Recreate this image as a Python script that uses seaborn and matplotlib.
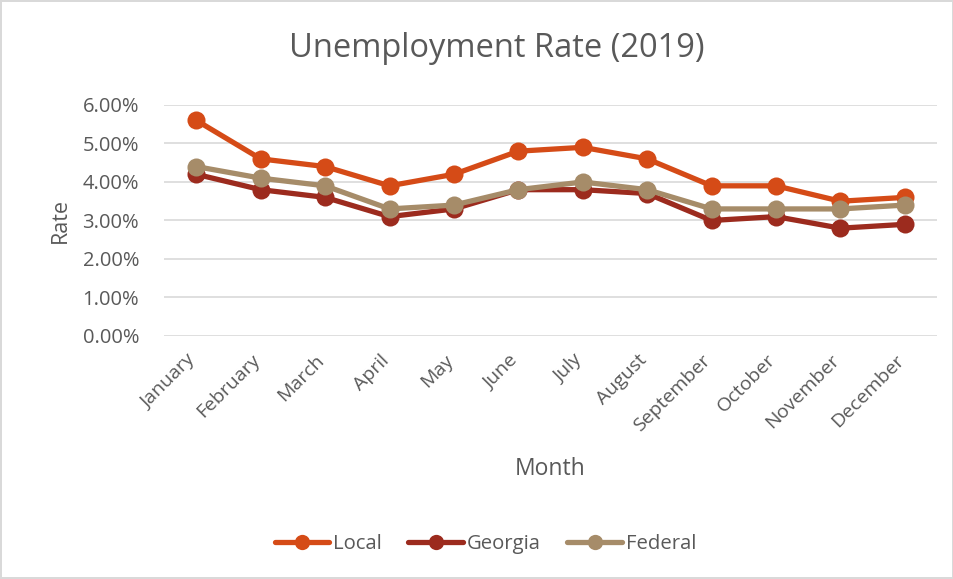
import pandas as pd
import matplotlib.pyplot as plt
import seaborn as sns
from matplotlib.ticker import PercentFormatter

months = ['January', 'February', 'March', 'April', 'May', 'June', 'July',
          'August', 'September', 'October', 'November', 'December']
local = [5.6, 4.6, 4.4, 3.9, 4.2, 4.8, 4.9, 4.6, 3.9, 3.9, 3.5, 3.6]
georgia = [4.2, 3.8, 3.6, 3.1, 3.3, 3.8, 3.8, 3.7, 3.0, 3.1, 2.8, 2.9]
federal = [4.4, 4.1, 3.9, 3.3, 3.4, 3.8, 4.0, 3.8, 3.3, 3.3, 3.3, 3.4]
series = ['Local', 'Georgia', 'Federal']
colors = {'Local': '#D54B17', 'Georgia': '#9C2B1E', 'Federal': '#A68C69'}

df = pd.DataFrame({
    'Month': months * 3,
    'Rate': local + georgia + federal,
    'Series': [s for s in series for _ in months],
})

sns.set_theme(style='white')
plt.rcParams['font.family'] = ['Open Sans', 'DejaVu Sans']
text_col = '#595959'

fig = plt.figure(figsize=(9.54, 5.79), dpi=100)
fig.patch.set_edgecolor('#D9D9D9')
fig.patch.set_linewidth(1.5)
ax = fig.add_axes([0.172, 0.4197, 0.8102, 0.399])

sns.lineplot(data=df, x='Month', y='Rate', hue='Series', palette=colors,
             hue_order=series, marker='o', markersize=13, markeredgewidth=0,
             linewidth=3.8, sort=False, legend=False, ax=ax)

ax.set_xlim(-0.5, 11.5)
ax.set_ylim(0, 6)
ax.set_yticks([0, 1, 2, 3, 4, 5, 6])
ax.yaxis.set_major_formatter(PercentFormatter(decimals=2))
ax.grid(axis='y', color='#D9D9D9', linewidth=1.2)
ax.set_axisbelow(True)
sns.despine(ax=ax, left=True, bottom=True)
ax.tick_params(axis='both', length=0, colors=text_col)
ax.tick_params(axis='y', pad=18, labelsize=14.5)
ax.tick_params(axis='x', pad=18, labelsize=14)
plt.setp(ax.get_xticklabels(), rotation=45, ha='right', va='baseline',
         rotation_mode='anchor')

ax.set_xlabel('Month', fontsize=16.5, color=text_col, labelpad=16)
ax.set_ylabel('Rate', fontsize=15.5, color=text_col, labelpad=8)
fig.text(0.521, 0.917, 'Unemployment Rate (2019)', ha='center', va='center',
         fontsize=23.5, color=text_col)

handles = [plt.Line2D([], [], color=colors[s], linewidth=3.8, marker='o',
                      markersize=11, markeredgewidth=0) for s in series]
fig.legend(handles, series, loc='center', bbox_to_anchor=(0.509, 0.06), ncol=3,
           frameon=False, fontsize=14.6, labelcolor=text_col,
           handlelength=2.7, handletextpad=0.2, columnspacing=1.3)

plt.savefig('out.png', dpi=100)
